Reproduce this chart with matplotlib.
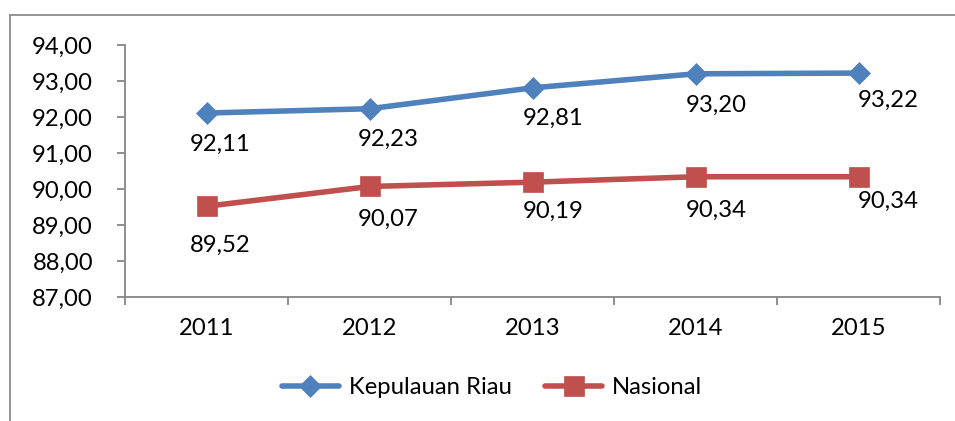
import matplotlib
matplotlib.use("Agg")
import matplotlib.pyplot as plt
from matplotlib.lines import Line2D
from matplotlib.ticker import FixedLocator, FuncFormatter

plt.rcParams['font.family'] = ['Lato', 'DejaVu Sans']

years = ["2011", "2012", "2013", "2014", "2015"]
kepri = [92.11, 92.23, 92.81, 93.20, 93.22]
nasional = [89.52, 90.07, 90.19, 90.34, 90.34]
series_names = ["Kepulauan Riau", "Nasional"]

# label offsets in pixels (layout only)
kepri_dx = [14, 19, 21, 21, 30]
kepri_dy = [-31, -31, -31, -32, -27]
nas_dx = [14, 19, 21, 21, 30]
nas_dy = [-39, -33, -29, -34, -25]

blue = "#4F81BD"
red = "#C0504D"
gray = "#868686"
fs = 17.2

fig = plt.figure(figsize=(9.55, 4.21), dpi=100)
ax = fig.add_axes([125/955, 1-297/421, 815/955, 252/421])

x = list(range(len(years)))
ax.plot(x, kepri, color=blue, lw=4, marker='D', ms=11.5, mec=blue, mew=0.5,
        label=series_names[0], solid_capstyle='round', zorder=3)
ax.plot(x, nasional, color=red, lw=4, marker='s', ms=14, mec=red, mew=0.5,
        label=series_names[1], solid_capstyle='round', zorder=3)

def fmt(v):
    return f"{v:.2f}".replace(".", ",")

for xi, v, dx, dy in zip(x, kepri, kepri_dx, kepri_dy):
    ax.annotate(fmt(v), (xi, v), xytext=(dx*0.72, dy*0.72), textcoords='offset points',
                ha='center', va='center', fontsize=fs, color='black')
for xi, v, dx, dy in zip(x, nasional, nas_dx, nas_dy):
    ax.annotate(fmt(v), (xi, v), xytext=(dx*0.72, dy*0.72), textcoords='offset points',
                ha='center', va='center', fontsize=fs, color='black')

ax.set_xlim(-0.5, len(years)-0.5)
ax.set_ylim(87, 94)
ax.set_yticks([87, 88, 89, 90, 91, 92, 93, 94])
ax.yaxis.set_major_formatter(FuncFormatter(lambda v, p: fmt(v)))
ax.set_xticks(x)
ax.set_xticklabels(years)
ax.xaxis.set_minor_locator(FixedLocator([i - 0.5 for i in range(len(years)+1)]))

for s in ['top', 'right']:
    ax.spines[s].set_visible(False)
for s in ['left', 'bottom']:
    ax.spines[s].set_color(gray)
    ax.spines[s].set_linewidth(1.3)

ax.tick_params(axis='y', direction='out', length=6, width=1.3, color=gray,
               pad=17, labelsize=fs)
ax.tick_params(axis='x', which='major', length=0, pad=15, labelsize=fs)
ax.tick_params(axis='x', which='minor', direction='out', length=5.5, width=1.3, color=gray)

leg = fig.legend(loc='center', bbox_to_anchor=(492/955, 1-388/421), ncol=2,
                 frameon=False, fontsize=fs, handlelength=2.4, handletextpad=0.4,
                 columnspacing=1.4)

# outer frame lines (left and top)
fig.add_artist(Line2D([10/955, 10/955], [0, 1-15/421], color='#8c8c8c', lw=1.3,
                      transform=fig.transFigure))
fig.add_artist(Line2D([10/955, 1], [1-15/421, 1-15/421], color='#8c8c8c', lw=1.3,
                      transform=fig.transFigure))

fig.savefig("out.png", dpi=100)
